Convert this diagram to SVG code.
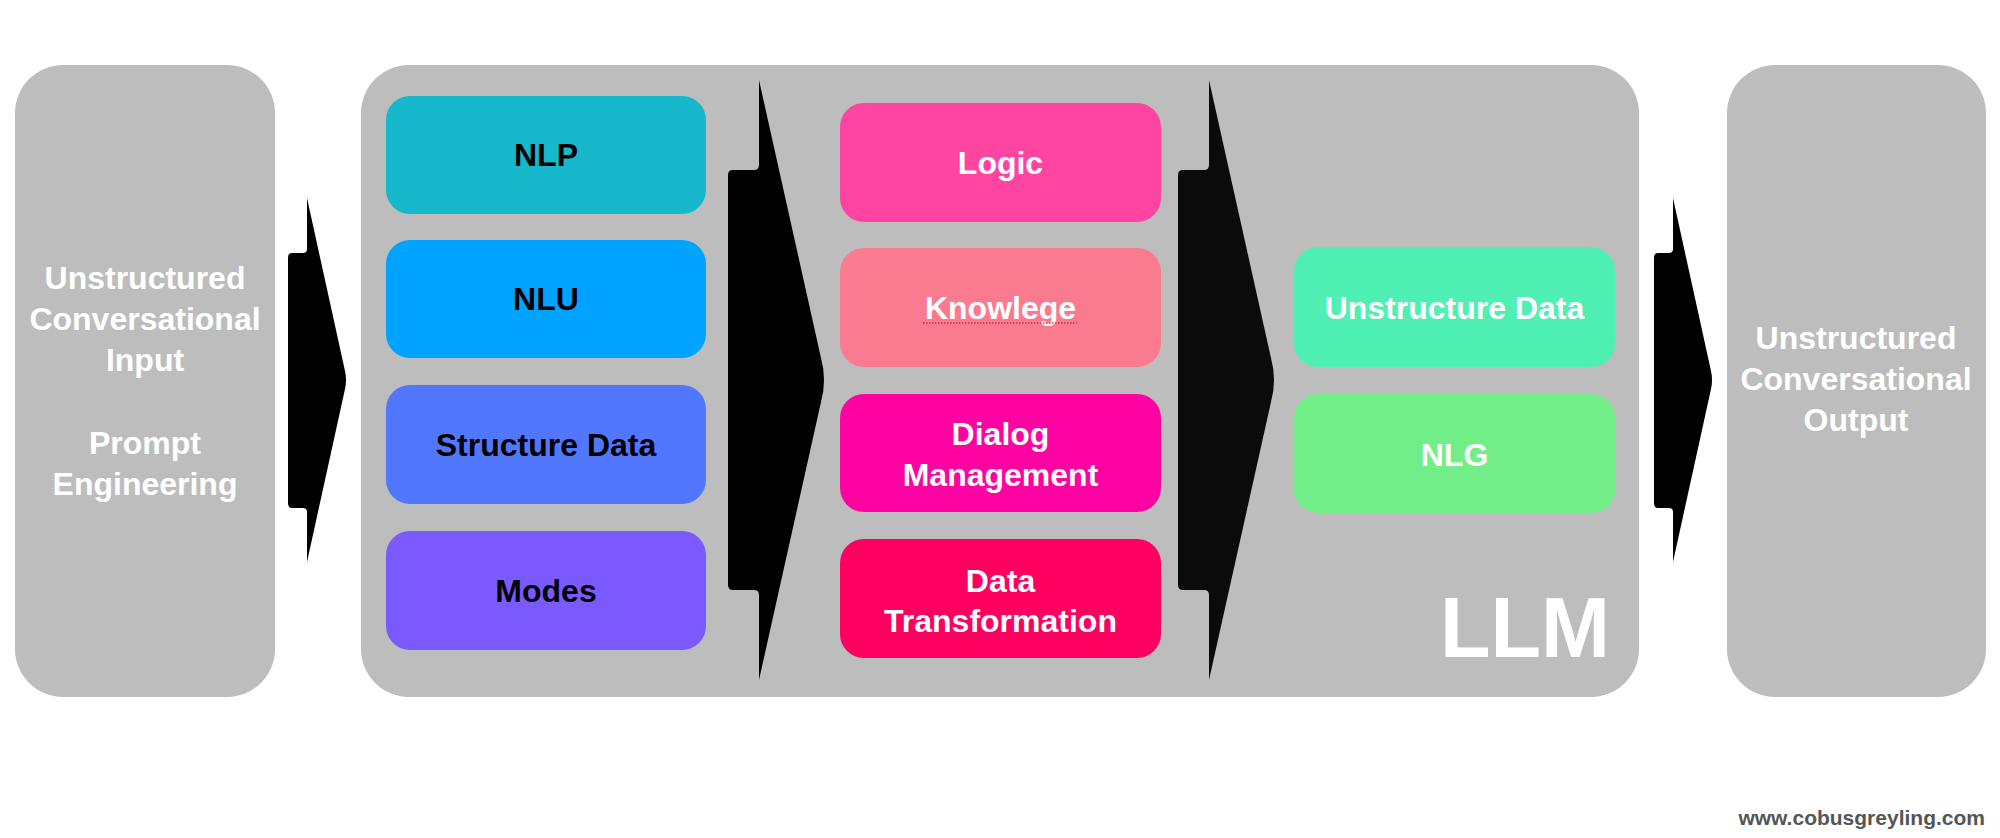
<svg xmlns="http://www.w3.org/2000/svg" width="2000" height="838" viewBox="0 0 2000 838">
<style>
.panel{fill:#BDBDBD}
.t{font-family:"Liberation Sans",Arial,Helvetica,sans-serif;font-weight:bold;font-size:32px;text-anchor:middle}
.w{fill:#FFFFFF}
.k{fill:#000000}
</style>
<rect width="2000" height="838" fill="#FFFFFF"/>
<g id="input">
<rect class="panel" x="15" y="65" width="260" height="632" rx="48"/>
<text class="t w" x="145" y="289">Unstructured</text>
<text class="t w" x="145" y="330">Conversational</text>
<text class="t w" x="145" y="371">Input</text>
<text class="t w" x="145" y="454">Prompt</text>
<text class="t w" x="145" y="495">Engineering</text>
</g>
<g id="llm">
<rect class="panel" x="361" y="65" width="1278" height="632" rx="48"/>
<text x="1440" y="657" font-family="Liberation Sans, Arial, sans-serif" font-weight="bold" font-size="86" fill="#FFFFFF" textLength="170" lengthAdjust="spacingAndGlyphs">LLM</text>
</g>
<g id="output">
<rect class="panel" x="1727" y="65" width="259" height="632" rx="48"/>
<text class="t w" x="1856" y="349">Unstructured</text>
<text class="t w" x="1856" y="390">Conversational</text>
<text class="t w" x="1856" y="431">Output</text>
</g>
<g id="nlp"><rect x="386" y="96" width="320" height="118" rx="24" fill="#17B8CC"/><text class="t k" x="546" y="166">NLP</text></g>
<g id="nlu"><rect x="386" y="240" width="320" height="118" rx="24" fill="#00A3FF"/><text class="t k" x="546" y="310">NLU</text></g>
<g id="structure-data"><rect x="386" y="385" width="320" height="119" rx="24" fill="#5177FF"/><text class="t k" x="546" y="456">Structure Data</text></g>
<g id="modes"><rect x="386" y="531" width="320" height="119" rx="24" fill="#7A5AFF"/><text class="t k" x="546" y="602">Modes</text></g>
<g id="logic"><rect x="840" y="103" width="321" height="119" rx="24" fill="#FF44A1"/><text class="t w" x="1000.5" y="174">Logic</text></g>
<g id="knowlege"><rect x="840" y="248" width="321" height="119" rx="24" fill="#FA7B8F"/><text class="t w" x="1000.5" y="319">Knowlege</text>
<line x1="923" y1="323" x2="1077" y2="323" stroke="#E0303A" stroke-width="1.5" stroke-dasharray="1.5 1.5"/></g>
<g id="dialog-management"><rect x="840" y="394" width="321" height="118" rx="24" fill="#FF02A2"/><text class="t w" x="1000.5" y="445">Dialog</text><text class="t w" x="1000.5" y="486">Management</text></g>
<g id="data-transformation"><rect x="840" y="539" width="321" height="119" rx="24" fill="#FF0060"/><text class="t w" x="1000.5" y="592">Data</text><text class="t w" x="1000.5" y="632">Transformation</text></g>
<g id="unstructure-data"><rect x="1294" y="247" width="321" height="120" rx="24" fill="#4EF0B3"/><text class="t w" x="1454.5" y="319">Unstructure Data</text></g>
<g id="nlg"><rect x="1294" y="394" width="321" height="119" rx="24" fill="#72EE89"/><text class="t w" x="1454.5" y="466">NLG</text></g>
<g id="connectors">
<path id="arrow1" fill="#000000" d="M307,198 L345,371 Q347,380 345,389 L307,562 L307,512 Q307,508 303,508 L292,508 Q288,508 288,503 L288,258 Q288,253 292,253 L303,253 Q307,253 307,249 Z"/>
<path id="arrow2" fill="#000000" d="M759,80 L821,358 Q827,380 821,402 L759,680 L759,595 Q759,590 754,590 L733,590 Q728,590 728,585 L728,175 Q728,170 733,170 L754,170 Q759,170 759,165 Z"/>
<path id="arrow3" fill="#0B0B0B" transform="translate(450,0)" d="M759,80 L821,358 Q827,380 821,402 L759,680 L759,595 Q759,590 754,590 L733,590 Q728,590 728,585 L728,175 Q728,170 733,170 L754,170 Q759,170 759,165 Z"/>
<path id="arrow4" fill="#000000" transform="translate(1366,0)" d="M307,198 L345,371 Q347,380 345,389 L307,562 L307,512 Q307,508 303,508 L292,508 Q288,508 288,503 L288,258 Q288,253 292,253 L303,253 Q307,253 307,249 Z"/>
</g>
<text x="1985" y="825" font-family="Liberation Sans, Arial, sans-serif" font-weight="bold" font-size="21" fill="#555555" text-anchor="end">www.cobusgreyling.com</text>
</svg>
